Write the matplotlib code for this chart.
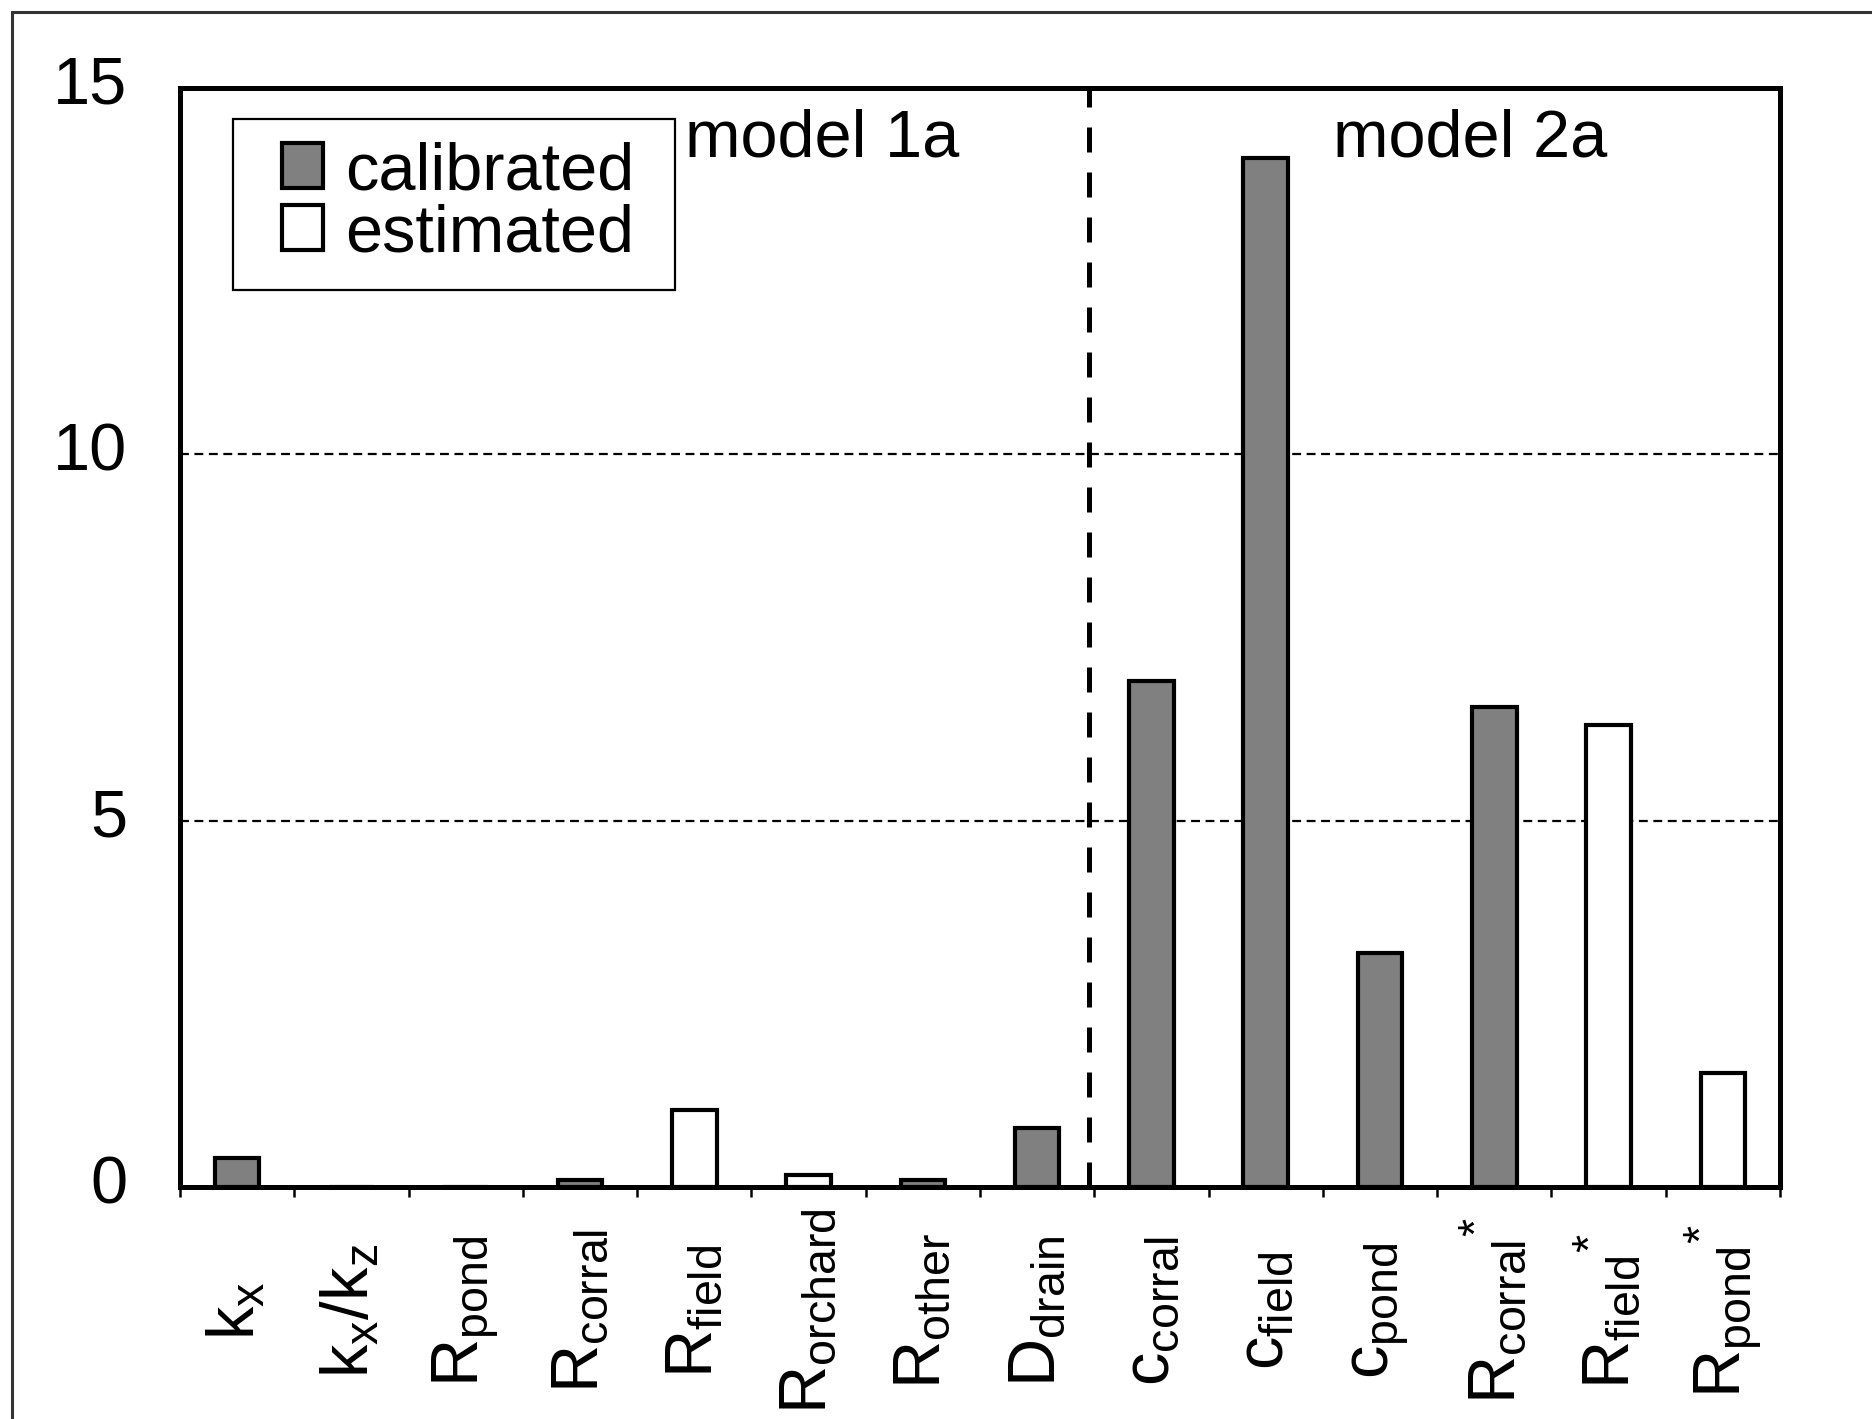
import matplotlib

matplotlib.use("Agg")
import matplotlib.pyplot as plt
import matplotlib.transforms as mtransforms
from matplotlib.lines import Line2D
from matplotlib.patches import Rectangle
import numpy as np

# parameter sensitivities, model 1a (first 8) and model 2a (last 6)
params = [
    r"$\mathrm{k_x}$",
    r"$\mathrm{k_x/k_z}$",
    r"$\mathrm{R_{pond}}$",
    r"$\mathrm{R_{corral}}$",
    r"$\mathrm{R_{field}}$",
    r"$\mathrm{R_{orchard}}$",
    r"$\mathrm{R_{other}}$",
    r"$\mathrm{D_{drain}}$",
    r"$\mathrm{c_{corral}}$",
    r"$\mathrm{c_{field}}$",
    r"$\mathrm{c_{pond}}$",
    r"$\mathrm{R_{corral}}^{*}$",
    r"$\mathrm{R_{field}}^{*}$",
    r"$\mathrm{R_{pond}}^{*}$",
]
values = [0.4, 0.0, 0.0, 0.1, 1.05, 0.17, 0.1, 0.8, 6.9, 14.05, 3.2, 6.55, 6.3, 1.55]
kinds = ["calibrated", "calibrated", "calibrated", "calibrated", "estimated",
         "estimated", "calibrated", "calibrated", "calibrated", "calibrated",
         "calibrated", "calibrated", "estimated", "estimated"]
y_ticks = [0, 5, 10, 15]
model_split = 7.45

plt.rcParams["font.family"] = ["Liberation Sans", "DejaVu Sans"]
plt.rcParams["mathtext.fontset"] = "custom"
plt.rcParams["mathtext.rm"] = "Liberation Sans"
plt.rcParams["mathtext.it"] = "Liberation Sans:italic"
plt.rcParams["mathtext.bf"] = "Liberation Sans:bold"

W, H, DPI = 1872, 1419, 200
fig = plt.figure(figsize=(W / DPI, H / DPI), dpi=DPI)
ax = fig.add_axes([180 / W, (H - 1187) / H, 1600 / W, 1099 / H])

x = np.arange(len(params))
vals = np.asarray(values)
is_cal = np.array([k == "calibrated" for k in kinds])

bar_kw = dict(width=0.39, edgecolor="black", linewidth=1.5, zorder=3)
ax.bar(x[is_cal], vals[is_cal], color="#808080", label="calibrated", **bar_kw)
ax.bar(x[~is_cal], vals[~is_cal], color="white", label="estimated", **bar_kw)

ax.set_xlim(-0.5, len(params) - 0.5)
ax.set_ylim(0, 15)

# dotted horizontal grid + dashed divider between the two models
ax.set_axisbelow(True)
ax.yaxis.grid(True, linestyle=(0, (4, 2.5)), linewidth=0.8, color="black")
ax.axvline(model_split, color="black", linewidth=1.8,
           linestyle=(0, (5, 4)), zorder=2)

for s in ax.spines.values():
    s.set_linewidth(1.8)

# y axis
ax.set_yticks(y_ticks)
ax.tick_params(axis="y", length=0, pad=19, labelsize=24)
shift = mtransforms.ScaledTranslation(0, 8 / DPI, fig.dpi_scale_trans)
for lbl in ax.get_yticklabels():
    lbl.set_transform(lbl.get_transform() + shift)

# x axis: ticks at category boundaries, labels at centres
ax.set_xticks(np.arange(-0.5, len(params)), [""] * (len(params) + 1))
ax.tick_params(axis="x", which="major", direction="out", length=3.6, width=0.9)
ax.set_xticks(x, params, minor=True)
ax.tick_params(axis="x", which="minor", length=0, pad=44.6, labelsize=24)
for lbl in ax.get_xticklabels(minor=True):
    lbl.set_rotation(90)
    lbl.set_va("center")
    lbl.set_ha("center")

# model headers
hdr = mtransforms.blended_transform_factory(ax.transData, ax.transAxes)
ax.text(3.92, 0.938, "model 1a", transform=hdr, fontsize=24, va="baseline")
ax.text(9.59, 0.938, "model 2a", transform=hdr, fontsize=24, va="baseline")

# legend entries without their own frame; the box is drawn separately
leg = ax.legend(loc="upper left", bbox_to_anchor=(282 / W, 1 - 141 / H),
                bbox_transform=fig.transFigure, borderaxespad=0,
                fontsize=24, frameon=False, handlelength=0.62,
                handleheight=0.66, handletextpad=0.32, labelspacing=0.0,
                borderpad=0)
leg.set_zorder(6)
ax.add_patch(Rectangle((233 / W, 1 - 290 / H), 442 / W, 171 / H,
                       transform=fig.transFigure, facecolor="white",
                       edgecolor="black", linewidth=0.8, zorder=5,
                       clip_on=False))

# border of the panel (left and top edges)
fig.add_artist(Line2D([12 / W, 12 / W], [0, 1 - 12 / H], transform=fig.transFigure,
                      color="#333333", linewidth=1.1))
fig.add_artist(Line2D([12 / W, 1], [1 - 12 / H, 1 - 12 / H], transform=fig.transFigure,
                      color="#333333", linewidth=1.1))

fig.savefig("out.png", dpi=DPI)
